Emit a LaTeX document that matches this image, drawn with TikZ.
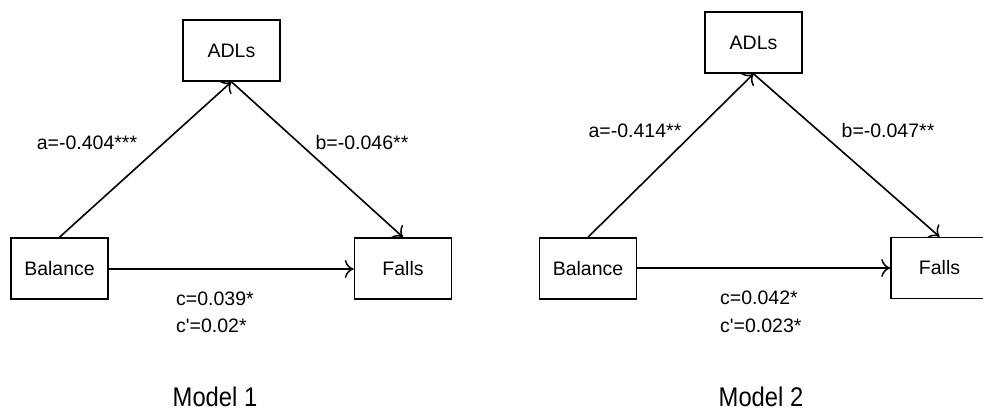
\documentclass[tikz,border=0pt]{standalone}
\usepackage{fontspec}
\setmainfont{Liberation Sans}[Ligatures=TeXOff]
\usetikzlibrary{arrows.meta}
\begin{document}
\begin{tikzpicture}[x=1pt,y=-1pt,
  varbox/.style={draw,line width=1.6pt,minimum width=97pt,minimum height=61pt,inner sep=0pt,font=\fontsize{19.5}{23}\selectfont},
  path/.style={line width=1.6pt,-{To[length=9pt,width=18pt,line width=1.5pt]}},
  coef/.style={font=\fontsize{19.5}{23}\selectfont,inner sep=0pt},
  title/.style={font=\fontsize{27}{30}\selectfont,inner sep=0pt}]
\useasboundingbox (0,0) rectangle (983,413);
\fill[white] (0,0) rectangle (983,413);

% Model 1
\node[varbox] (adl1) at (231.5,50.5) {ADLs};
\node[varbox] (bal1) at (59.5,268.5) {Balance};
\node[varbox] (fal1) at (403,268.5) {Falls};
\draw[path] (bal1.north) -- (adl1.south);
\draw[path] (adl1.south) -- (fal1.north);
\draw[path] (bal1.east |- 0,269) -- (fal1.west |- 0,269);
\node[coef] (a1) at (87,143) {a=-0.404***};
\node[coef] (b1) at (362,143) {b=-0.046**};
\node[coef,anchor=west] (c1) at (176,299) {c=0.039*};
\node[coef,anchor=west] (cp1) at (176,326) {c'=0.02*};
\node[title] (m1) at (215,397) {\scalebox{0.88}[1]{Model 1}};

% Model 2
\node[varbox] (adl2) at (753.5,42.5) {ADLs};
\node[varbox] (bal2) at (588,268.5) {Balance};
\node[varbox] (fal2) at (939.5,268) {Falls};
\draw[path] (bal2.north) -- (adl2.south);
\draw[path] (adl2.south) -- (fal2.north);
\draw[path] (bal2.east |- 0,268) -- (fal2.west |- 0,268);
\node[coef] (a2) at (635,131) {a=-0.414**};
\node[coef] (b2) at (888,131) {b=-0.047**};
\node[coef,anchor=west] (c2) at (720,298) {c=0.042*};
\node[coef,anchor=west] (cp2) at (720,326) {c'=0.023*};
\node[title] (m2) at (761,397) {\scalebox{0.88}[1]{Model 2}};
\end{tikzpicture}
\end{document}
